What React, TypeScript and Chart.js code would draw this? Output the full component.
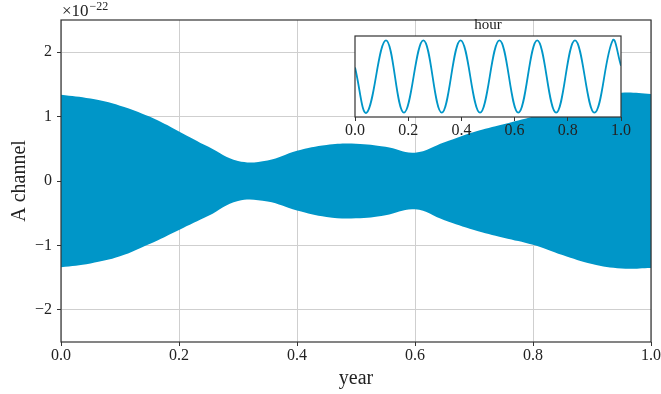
import React, { useEffect, useRef } from "react";
import { Chart, registerables } from "chart.js";

Chart.register(...registerables);

// Envelope of the "A channel" signal (units of 1e-22) read along "year"
const envX = [0, 0.05, 0.1, 0.15, 0.2, 0.25, 0.3, 0.35, 0.4, 0.45, 0.5, 0.55, 0.6, 0.65, 0.7, 0.75, 0.8, 0.85, 0.9, 0.95, 1.0];
const envUpper = [1.34, 1.28, 1.17, 1.0, 0.77, 0.53, 0.31, 0.32, 0.47, 0.56, 0.58, 0.53, 0.44, 0.6, 0.76, 0.88, 1.0, 1.14, 1.29, 1.37, 1.35];
const envLower = [-1.34, -1.28, -1.17, -0.98, -0.76, -0.54, -0.31, -0.32, -0.46, -0.56, -0.58, -0.53, -0.44, -0.61, -0.76, -0.88, -0.99, -1.15, -1.29, -1.36, -1.35];

const mainXTicks = [0, 0.2, 0.4, 0.6, 0.8, 1.0];
const mainYTicks = [-2, -1, 0, 1, 2];

// Inset: one hour, extremes of the oscillation
const hourX = [0, 0.044, 0.1165, 0.184, 0.257, 0.326, 0.397, 0.47, 0.543, 0.614, 0.685, 0.756, 0.827, 0.9, 0.969, 1.0];
const hourY = [0.25, -1, 1, -1, 1, -1, 1, -1, 1, -1, 1, -1, 1, -1, 1, 0.3];
const hourXTicks = [0, 0.2, 0.4, 0.6, 0.8, 1.0];

const BLUE = "#0096c8";
const FONT = "'Liberation Serif', 'DejaVu Serif', serif";
const TEXT = "#222";
const GRID = "#cfcfcf";
const AXIS = "#333";

const framePlugin = {
  id: "frame",
  afterDatasetsDraw(chart: any) {
    const { ctx, chartArea: a } = chart;
    ctx.save();
    ctx.strokeStyle = AXIS;
    ctx.lineWidth = 1.2;
    ctx.strokeRect(a.left, a.top, a.right - a.left, a.bottom - a.top);
    ctx.restore();
  },
};

const expoPlugin = {
  id: "expo",
  afterDraw(chart: any) {
    const { ctx, chartArea: a } = chart;
    ctx.save();
    ctx.fillStyle = TEXT;
    ctx.textBaseline = "alphabetic";
    ctx.textAlign = "left";
    ctx.font = `17px ${FONT}`;
    const base = "×10";
    ctx.fillText(base, a.left + 1, 16);
    const w = ctx.measureText(base).width;
    ctx.font = `12px ${FONT}`;
    ctx.fillText("−22", a.left + 1 + w + 1, 10);
    ctx.restore();
  },
};

const whiteAreaPlugin = {
  id: "whiteArea",
  beforeDraw(chart: any) {
    const { ctx, chartArea: a } = chart;
    ctx.save();
    ctx.fillStyle = "#ffffff";
    ctx.fillRect(a.left, a.top, a.right - a.left, a.bottom - a.top);
    ctx.restore();
  },
};

export default function App() {
  const mainRef = useRef<HTMLCanvasElement>(null);
  const insetRef = useRef<HTMLCanvasElement>(null);

  useEffect(() => {
    document.body.style.margin = "0";
    const main = new Chart(mainRef.current as HTMLCanvasElement, {
      type: "line",
      data: {
        datasets: [
          {
            data: envX.map((x, i) => ({ x, y: envUpper[i] })),
            borderWidth: 0,
            borderColor: BLUE,
            backgroundColor: BLUE,
            pointRadius: 0,
            fill: "+1",
            tension: 0.4,
          },
          {
            data: envX.map((x, i) => ({ x, y: envLower[i] })),
            borderWidth: 0,
            borderColor: BLUE,
            backgroundColor: BLUE,
            pointRadius: 0,
            fill: false,
            tension: 0.4,
          },
        ],
      },
      options: {
        responsive: false,
        animation: false,
        maintainAspectRatio: false,
        layout: { padding: { top: 20, right: 10, left: 0, bottom: 0 } },
        plugins: { legend: { display: false }, tooltip: { enabled: false } },
        scales: {
          x: {
            type: "linear",
            min: 0,
            max: 1,
            afterBuildTicks: (s: any) => {
              s.ticks = mainXTicks.map((v) => ({ value: v }));
            },
            afterFit: (s: any) => {
              s.height = 52;
            },
            ticks: {
              callback: (v: any) => Number(v).toFixed(1),
              font: { family: FONT, size: 16 },
              color: TEXT,
              padding: 0,
              maxRotation: 0,
            },
            grid: { color: GRID, tickColor: AXIS, tickLength: 4, lineWidth: 1 },
            border: { display: false },
            title: {
              display: true,
              text: "year",
              font: { family: FONT, size: 20 },
              color: TEXT,
              padding: { top: 0, bottom: 3 },
            },
          },
          y: {
            type: "linear",
            min: -2.5,
            max: 2.5,
            afterBuildTicks: (s: any) => {
              s.ticks = mainYTicks.map((v) => ({ value: v }));
            },
            afterFit: (s: any) => {
              s.width = 61;
            },
            ticks: {
              callback: (v: any) => (Number(v) < 0 ? "−" + Math.abs(Number(v)) : String(v)),
              font: { family: FONT, size: 16 },
              color: TEXT,
              padding: 5,
            },
            grid: { color: GRID, tickColor: AXIS, tickLength: 4, lineWidth: 1 },
            border: { display: false },
            title: {
              display: true,
              text: "A channel",
              font: { family: FONT, size: 20 },
              color: TEXT,
              padding: { top: 8, bottom: 0 },
            },
          },
        },
      } as any,
      plugins: [framePlugin, expoPlugin],
    });

    const inset = new Chart(insetRef.current as HTMLCanvasElement, {
      type: "line",
      data: {
        datasets: [
          {
            data: hourX.map((x, i) => ({ x, y: hourY[i] })),
            borderWidth: 1.8,
            borderColor: BLUE,
            pointRadius: 0,
            fill: false,
            tension: 0.4,
          },
        ],
      },
      options: {
        responsive: false,
        animation: false,
        maintainAspectRatio: false,
        layout: { padding: { top: 0, right: 14, left: 10, bottom: 0 } },
        plugins: {
          legend: { display: false },
          tooltip: { enabled: false },
          title: {
            display: true,
            text: "hour",
            font: { family: FONT, size: 15, weight: "normal" },
            color: TEXT,
            padding: { top: 6, bottom: 2 },
          },
        },
        scales: {
          x: {
            type: "linear",
            min: 0,
            max: 1,
            afterBuildTicks: (s: any) => {
              s.ticks = hourXTicks.map((v) => ({ value: v }));
            },
            afterFit: (s: any) => {
              s.height = 28;
            },
            ticks: {
              callback: (v: any) => Number(v).toFixed(1),
              font: { family: FONT, size: 16 },
              color: TEXT,
              padding: 0,
              maxRotation: 0,
            },
            grid: { drawOnChartArea: false, tickColor: AXIS, tickLength: 4 },
            border: { display: false },
          },
          y: {
            display: false,
            min: -1.12,
            max: 1.12,
          },
        },
      } as any,
      plugins: [whiteAreaPlugin, framePlugin],
    });

    return () => {
      main.destroy();
      inset.destroy();
    };
  }, []);

  return (
    <div style={{ position: "fixed", left: 0, top: 0, width: 661, height: 394, background: "#fff" }}>
      <canvas ref={mainRef} width={661} height={394} style={{ position: "absolute", left: 0, top: 0, width: 661, height: 394 }} />
      <canvas ref={insetRef} width={290} height={135} style={{ position: "absolute", left: 345, top: 10, width: 290, height: 135 }} />
    </div>
  );
}
